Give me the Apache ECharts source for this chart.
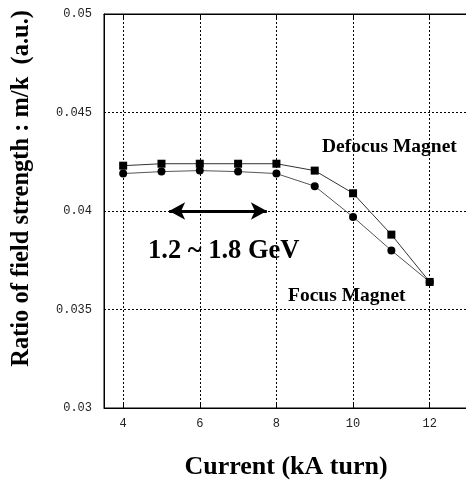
<!DOCTYPE html>
<html>
<head>
<meta charset="utf-8">
<script src="https://cdn.jsdelivr.net/npm/echarts@6/dist/echarts.min.js"></script>
<style>html,body{margin:0;padding:0;background:#fff;}#c{width:466px;height:481px;}</style>
</head>
<body>
<div id="c"></div>
<script>
const currents = [4, 5, 6, 7, 8, 9, 10, 11, 12];
const defocusValues = [0.0423, 0.0424, 0.0424, 0.0424, 0.0424, 0.04205, 0.0409, 0.0388, 0.0364];
const focusValues = [0.0419, 0.0420, 0.04205, 0.0420, 0.0419, 0.04126, 0.0397, 0.0380, 0.0364];
const xTicks = [4, 6, 8, 10, 12];
const yTicks = [0.03, 0.035, 0.04, 0.045, 0.05];
const energyRange = [5.2, 7.75];
const energyLevel = 0.04;
const xTitle = 'Current (kA turn)';
const yTitle = 'Ratio of field strength : m/k  (a.u.)';
const defocusLabel = 'Defocus Magnet';
const focusLabel = 'Focus Magnet';
const energyLabel = '1.2 ~ 1.8 GeV';

const pair = (xs, ys) => xs.map((x, i) => [x, ys[i]]);
const serif = 'Liberation Serif, Times New Roman, serif';
const mono = 'Liberation Mono, monospace';
const gridStyle = { color: '#000', width: 1, type: [2, 2] };

const chart = echarts.init(document.getElementById('c'), null, { renderer: 'canvas' });
chart.setOption({
  animation: false,
  backgroundColor: '#fff',
  grid: { left: 104, top: 14, width: 364, bottom: 73, show: true, borderColor: '#000', borderWidth: 1,
          containLabel: false, outerBoundsMode: 'none' },
  xAxis: [{
    type: 'value', min: 3.5, max: 13, position: 'bottom',
    name: xTitle, nameLocation: 'middle', nameGap: 46,
    nameTextStyle: { fontFamily: serif, fontWeight: 'bold', fontSize: 26, color: '#000' },
    axisLine: { show: true, lineStyle: { color: '#000', width: 1 } },
    axisTick: { show: true, inside: true, length: 5, customValues: xTicks, lineStyle: { color: '#000' } },
    axisLabel: { customValues: xTicks, fontFamily: mono, fontSize: 12, color: '#222', margin: 10 },
    splitLine: { show: false }
  }, {
    type: 'value', min: 3.5, max: 13, position: 'top',
    axisLine: { show: true, lineStyle: { color: '#000', width: 1 } },
    axisTick: { show: true, inside: true, length: 5, customValues: xTicks, lineStyle: { color: '#000' } },
    axisLabel: { show: false },
    splitLine: { show: false }
  }],
  yAxis: {
    type: 'value', min: 0.03, max: 0.05, interval: 0.005,
    axisLine: { show: true, lineStyle: { color: '#000', width: 1 } },
    axisTick: { show: false },
    axisLabel: { fontFamily: mono, fontSize: 12, color: '#222', margin: 12, formatter: v => String(+v.toFixed(3)) },
    splitLine: { show: true, lineStyle: gridStyle }
  },
  series: [{
    name: 'grid', type: 'line', data: [], silent: true,
    markLine: {
      silent: true, symbol: 'none', label: { show: false },
      lineStyle: gridStyle, animation: false,
      data: xTicks.map(v => ({ xAxis: v }))
    }
  }, {
    name: defocusLabel, type: 'line', data: pair(currents, defocusValues),
    symbol: 'rect', symbolSize: 8,
    lineStyle: { color: '#333', width: 1 }, itemStyle: { color: '#000' }, z: 5
  }, {
    name: focusLabel, type: 'line', data: pair(currents, focusValues),
    symbol: 'circle', symbolSize: 8,
    lineStyle: { color: '#555', width: 1 }, itemStyle: { color: '#000' }, z: 4,
    markLine: {
      silent: true, symbol: ['arrow', 'arrow'], symbolSize: [13, 16],
      label: { show: false },
      lineStyle: { color: '#000', width: 3, type: 'solid' },
      data: [[{ coord: [energyRange[0], energyLevel] }, { coord: [energyRange[1], energyLevel] }]]
    }
  }],
  graphic: [
    { type: 'text', left: 9, top: 10, rotation: Math.PI / 2, style: { text: yTitle, font: 'bold 24.5px ' + serif, fill: '#000' } },
    { type: 'text', left: 322, top: 137, style: { text: defocusLabel, font: 'bold 19.5px ' + serif, fill: '#000' } },
    { type: 'text', left: 288, top: 286, style: { text: focusLabel, font: 'bold 19.5px ' + serif, fill: '#000' } },
    { type: 'text', left: 148, top: 238, style: { text: energyLabel, font: 'bold 26.5px ' + serif, fill: '#000' } }
  ]
});
</script>
</body>
</html>
